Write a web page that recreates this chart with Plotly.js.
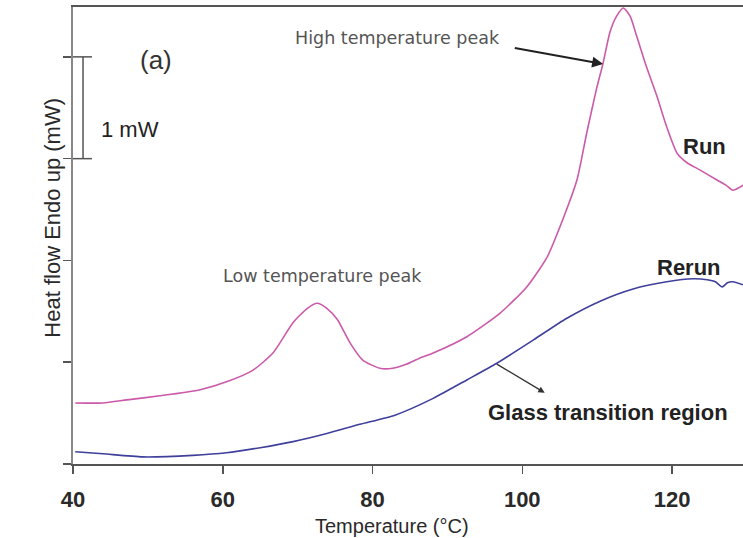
<!DOCTYPE html>
<html>
<head>
<meta charset="utf-8">
<script src="https://cdn.plot.ly/plotly-3.0.1.min.js"></script>
<style>html,body{margin:0;padding:0;background:#fff;}#chart{width:743px;height:538px;}</style>
</head>
<body>
<div id="chart"></div>
<script>
// Run (first heating) - temperature (°C) and heat flow (mW, arbitrary offset)
const runT = [40.3, 44, 47.2, 51.6, 57, 60.6, 64, 66.7, 69.4, 71.3, 72.6, 73.9, 75.3, 77, 78.7, 81, 82.7, 84.5, 86.3, 88.1, 92.6, 97, 100.6, 103.3, 105.4, 107.3, 108.6, 109.9, 110.8, 111.7, 112.6, 113.5, 114.4, 115.3, 116.6, 118, 119.3, 120.7, 122, 123.7, 126, 127.2, 128.1, 129.5];
const runV = [0.60, 0.60, 0.63, 0.67, 0.73, 0.81, 0.92, 1.09, 1.39, 1.53, 1.58, 1.53, 1.42, 1.19, 1.02, 0.94, 0.94, 0.98, 1.04, 1.09, 1.25, 1.48, 1.74, 2.03, 2.40, 2.79, 3.25, 3.68, 3.94, 4.24, 4.40, 4.48, 4.40, 4.20, 3.90, 3.61, 3.31, 3.05, 2.96, 2.89, 2.79, 2.74, 2.69, 2.74];
// Rerun (second heating)
const rerunT = [40.3, 44, 49.3, 56, 60.5, 65, 69.4, 73.9, 78.3, 83, 88.1, 92.6, 96.6, 101.5, 105.9, 110.4, 114.8, 119.3, 122.8, 124.7, 125.8, 126.7, 127.4, 128.1, 129.5];
const rerunV = [0.12, 0.10, 0.07, 0.085, 0.11, 0.16, 0.22, 0.30, 0.39, 0.48, 0.645, 0.826, 0.99, 1.22, 1.43, 1.60, 1.72, 1.79, 1.82, 1.81, 1.79, 1.74, 1.78, 1.79, 1.76];
const xTicks = [40, 60, 80, 100, 120];
const yTicks = [0, 1, 2, 3, 4];

const traces = [
  {x: runT, y: runV, mode: 'lines', name: 'Run', line: {color: '#cc5aaa', width: 1.6, shape: 'spline', smoothing: 0.6}},
  {x: rerunT, y: rerunV, mode: 'lines', name: 'Rerun', line: {color: '#3f3f9c', width: 1.6, shape: 'spline', smoothing: 0.6}}
];

const font = 'Liberation Sans, Arial, sans-serif';
const gfont = 'DejaVu Sans, Verdana, sans-serif';
const layout = {
  width: 743, height: 538,
  margin: {l: 73, r: 0, t: 7, b: 74},
  paper_bgcolor: '#fff', plot_bgcolor: '#fff',
  showlegend: false,
  font: {family: font, color: '#222'},
  xaxis: {
    range: [40, 129.48], tickvals: xTicks, ticks: 'outside', ticklen: 8, tickwidth: 1.5, tickcolor: '#555',
    showline: true, linecolor: '#555', linewidth: 2, mirror: true, showgrid: false, zeroline: false,
    tickfont: {size: 22, family: font, color: '#2a2a2a', weight: 'bold'}, ticklabelstandoff: 7
  },
  yaxis: {
    range: [0, 4.49], tickvals: yTicks, showticklabels: false, ticks: 'outside', ticklen: 8, tickwidth: 1.5, tickcolor: '#555',
    showline: true, linecolor: '#888', linewidth: 2.5, showgrid: false, zeroline: false
  },
  shapes: [
    {type: 'line', xref: 'x', yref: 'y', x0: 41.34, x1: 41.34, y0: 3, y1: 4, line: {color: '#555', width: 1.5}},
    {type: 'line', xref: 'x', yref: 'y', x0: 40, x1: 42.54, y0: 4, y1: 4, line: {color: '#555', width: 1.5}},
    {type: 'line', xref: 'x', yref: 'y', x0: 40, x1: 42.54, y0: 3, y1: 3, line: {color: '#555', width: 1.5}}
  ],
  annotations: [
    {x: 0.476, y: -0.135, xref: 'paper', yref: 'paper', yanchor: 'middle', text: 'Temperature (°C)', showarrow: false, font: {size: 20, family: font, color: '#2a2a2a'}},
    {x: -0.0522, y: 0.538, xref: 'paper', yref: 'paper', text: 'Heat flow Endo up (mW)', textangle: -90, showarrow: false, font: {size: 22, family: font, color: '#2a2a2a'}},
    {x: 51.1, y: 3.97, xref: 'x', yref: 'y', text: '(a)', showarrow: false, font: {size: 26, family: font, color: '#333'}},
    {x: 43.5, y: 3.29, xref: 'x', yref: 'y', xanchor: 'left', text: '1 mW', showarrow: false, font: {size: 22, family: font, color: '#222'}},
    {x: 83.4, y: 4.19, xref: 'x', yref: 'y', text: 'High temperature peak', showarrow: false, font: {size: 17.5, family: gfont, color: '#555'}},
    {x: 110.8, y: 3.93, ax: 98.8, ay: 4.09, axref: 'x', ayref: 'y', xref: 'x', yref: 'y', text: '', showarrow: true, arrowhead: 2, arrowsize: 1, arrowwidth: 2.2, arrowcolor: '#222', standoff: 0},
    {x: 124.4, y: 3.12, xref: 'x', yref: 'y', text: 'Run', showarrow: false, font: {size: 22, family: font, color: '#222', weight: 'bold'}},
    {x: 122.3, y: 1.93, xref: 'x', yref: 'y', text: 'Rerun', showarrow: false, font: {size: 22, family: font, color: '#222', weight: 'bold'}},
    {x: 73.3, y: 1.85, xref: 'x', yref: 'y', text: 'Low temperature peak', showarrow: false, font: {size: 17.5, family: gfont, color: '#555'}},
    {x: 111.4, y: 0.51, xref: 'x', yref: 'y', text: 'Glass transition region', showarrow: false, font: {size: 22, family: font, color: '#222', weight: 'bold'}},
    {x: 103.0, y: 0.70, ax: 96.4, ay: 0.99, axref: 'x', ayref: 'y', xref: 'x', yref: 'y', text: '', showarrow: true, arrowhead: 2, arrowsize: 1, arrowwidth: 1.3, arrowcolor: '#333', standoff: 0}
  ]
};

Plotly.newPlot('chart', traces, layout, {staticPlot: true, displayModeBar: false});
</script>
</body>
</html>
